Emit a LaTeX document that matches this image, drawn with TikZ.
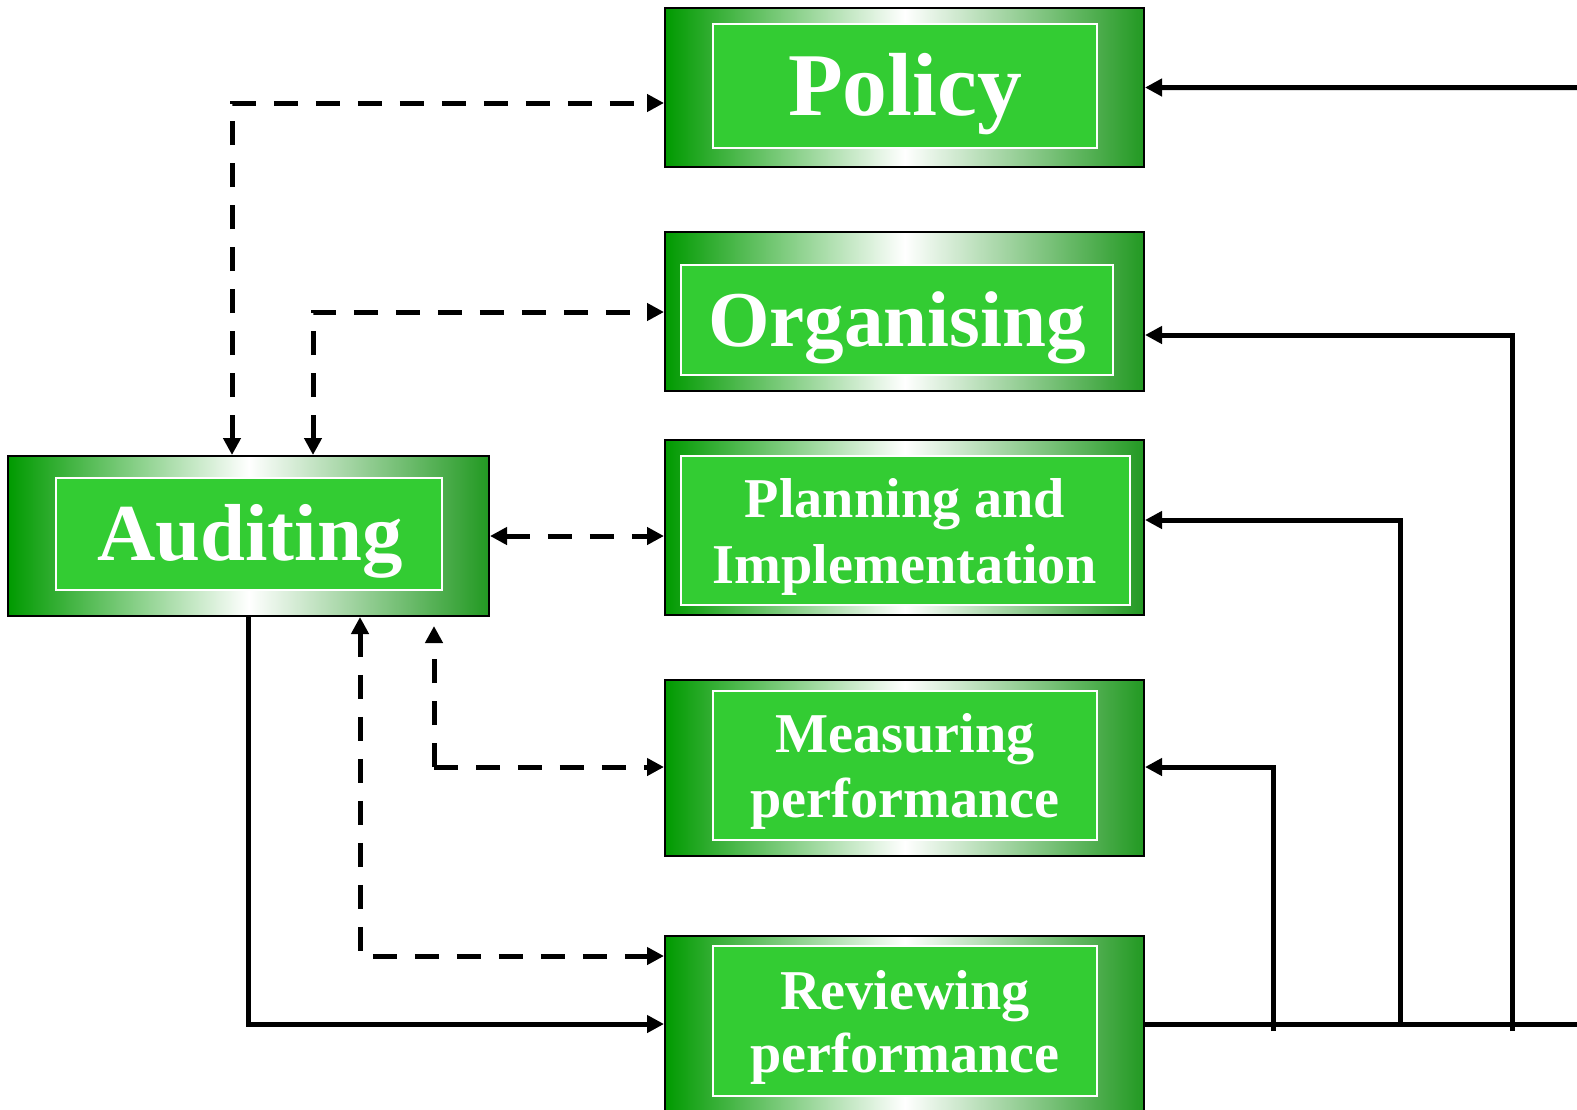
\documentclass[tikz,border=0pt]{standalone}
\usepackage{fontspec}
\setmainfont{Liberation Serif}
\usetikzlibrary{arrows.meta,fit}
\definecolor{gl}{HTML}{009A00}
\definecolor{gr}{HTML}{229922}
\definecolor{gin}{HTML}{33CC33}
\begin{document}
\begin{tikzpicture}[x=0.02cm,y=-0.02cm,
  outerbox/.style={draw=black,line width=0.04cm,inner sep=0pt,left color=gl,right color=gr,middle color=white},
  innerbox/.style={draw=white,line width=0.025cm,fill=gin,inner sep=0pt},
  lbl/.style={text=white,font=\bfseries\fontsize{32}{37}\selectfont,anchor=base,inner sep=0pt},
  dsh/.style={line width=0.1cm,dash pattern=on 0.48cm off 0.36cm},
  sol/.style={line width=0.1cm},
  arr/.style={-{Triangle[length=0.34cm,width=0.34cm]}},
  barr/.style={{Triangle[length=0.34cm,width=0.34cm]}-{Triangle[length=0.34cm,width=0.34cm]}}]
\useasboundingbox (0,0) rectangle (1577,1109);
\clip (0,0) rectangle (1577,1109);
% boxes
\node[outerbox,fit={(665,8)(1144,167)}] (pol) {};
\node[innerbox,fit={(713,24)(1097,148)}] (polin) {};
\node[lbl,font=\bfseries\fontsize{51}{60}\selectfont] (polt) at (905,115) {Policy};

\node[outerbox,fit={(665,232)(1144,391)}] (org) {};
\node[innerbox,fit={(681,265)(1113,375)}] (orgin) {};
\node[lbl,font=\bfseries\fontsize{45}{54}\selectfont] (orgt) at (897,346) {Organising};

\node[outerbox,fit={(665,440)(1144,615)}] (pla) {};
\node[innerbox,fit={(681,456)(1130,605)}] (plain) {};
\node[lbl] (plat1) at (905,517) {Planning and};
\node[lbl] (plat2) at (905,583) {Implementation};

\node[outerbox,fit={(665,680)(1144,856)}] (mea) {};
\node[innerbox,fit={(713,691)(1097,840)}] (meain) {};
\node[lbl] (meat1) at (905,752) {Measuring};
\node[lbl] (meat2) at (905,817) {performance};

\node[outerbox,fit={(665,936)(1144,1114)}] (rev) {};
\node[innerbox,fit={(713,946)(1097,1096)}] (revin) {};
\node[lbl] (revt1) at (905,1009) {Reviewing};
\node[lbl] (revt2) at (905,1072) {performance};

\node[outerbox,fit={(8,456)(489,616)}] (aud) {};
\node[innerbox,fit={(56,478)(442,590)}] (audin) {};
\node[lbl,font=\bfseries\fontsize{46}{54}\selectfont] (audt) at (250,560) {Auditing};

% dashed connectors
\coordinate (c1) at (232,103);
\draw[dsh,barr] (aud.north -| c1) -- (c1) -- (pol.west |- c1);
\coordinate (c2) at (313,312);
\draw[dsh,barr] (aud.north -| c2) -- (c2) -- (org.west |- c2);
\draw[dsh,barr] (aud.east) -- (pla.west |- aud.east);
\coordinate (c4) at (434,767);
\coordinate (c4e) at (434,626);
\draw[dsh,arr] (c4) -- (c4e);
\draw[dsh,arr] (c4) -- (mea.west |- c4);
\coordinate (c5) at (360,956);
\draw[dsh,barr] (aud.south -| c5) -- (c5) -- (rev.west |- c5);

% solid connectors
\coordinate (c6) at (248,1024);
\draw[sol,arr] (aud.south -| c6) -- (c6) -- (rev.west |- c6);
\coordinate (re) at (1577,1024);
\draw[sol] (rev.east |- re) -- (re);
\coordinate (v1) at (1273,767);
\coordinate (v1b) at (1273,1031);
\draw[sol,arr] (v1b) -- (v1) -- (mea.east |- v1);
\coordinate (v2) at (1400,520);
\draw[sol,arr] (v2 |- re) -- (v2) -- (pla.east |- v2);
\coordinate (v3) at (1512,335);
\coordinate (v3b) at (1512,1031);
\draw[sol,arr] (v3b) -- (v3) -- (org.east |- v3);
\coordinate (pe) at (1577,87.5);
\draw[sol,arr] (pe) -- (pol.east);
\end{tikzpicture}
\end{document}
